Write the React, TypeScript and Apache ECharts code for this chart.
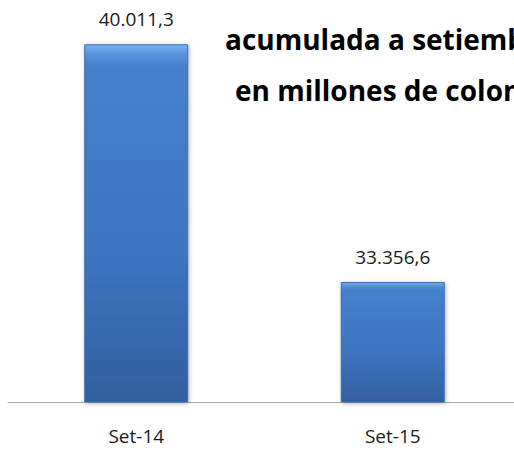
import React, { useEffect, useRef } from "react";
import * as echarts from "echarts";

const categories = ["Set-14", "Set-15"];
const values = [40011.3, 33356.6];
const valueLabels = ["40.011,3", "33.356,6"];
const titleLines = ["acumulada a setiembre", "en millones de colones"];

export default function App() {
  const ref = useRef<HTMLDivElement>(null);
  useEffect(() => {
    document.body.style.margin = "0";
    document.body.style.overflow = "hidden";
    const chart = echarts.init(ref.current!, null, { renderer: "svg" });
    chart.setOption({
      animation: false,
      backgroundColor: "#ffffff",
      grid: { left: 8, width: 513, top: 9, bottom: 49, containLabel: false },
      xAxis: {
        type: "category",
        data: categories,
        axisLine: { show: true, lineStyle: { color: "#a6a6a6", width: 1 } },
        axisTick: { show: false },
        axisLabel: {
          color: "#1a1a1a",
          fontFamily: "Open Sans",
          fontSize: 19,
          margin: 24,
        },
      },
      yAxis: {
        type: "value",
        min: 30000,
        max: 41000,
        show: false,
        splitLine: { show: false },
      },
      graphic: [
        {
          type: "text",
          left: 225,
          top: 25,
          style: {
            text: titleLines[0],
            fill: "#000",
            font: "bold 28px 'Open Sans'",
          },
        },
        {
          type: "text",
          left: 235,
          top: 76,
          style: {
            text: titleLines[1],
            fill: "#000",
            font: "bold 28px 'Open Sans'",
          },
        },
      ],
      series: [
        {
          type: "bar",
          data: values,
          barWidth: 104,
          itemStyle: {
            color: new echarts.graphic.LinearGradient(0, 0, 0, 1, [
              { offset: 0, color: "#78b2f0" },
              { offset: 0.025, color: "#5a94dd" },
              { offset: 0.06, color: "#4580cc" },
              { offset: 0.6, color: "#3d74bf" },
              { offset: 1, color: "#325f9f" },
            ]),
            borderColor: "#3a6cb0",
            borderWidth: 1,
            shadowColor: "rgba(0,0,0,0.3)",
            shadowBlur: 4,
            shadowOffsetX: 1,
            shadowOffsetY: 1,
          },
          label: {
            show: true,
            position: "top",
            distance: 16,
            formatter: (p: any) => valueLabels[p.dataIndex],
            color: "#1a1a1a",
            fontFamily: "Open Sans",
            fontSize: 19,
          },
        },
      ],
    });
    return () => chart.dispose();
  }, []);
  return (
    <div
      ref={ref}
      style={{ position: "fixed", left: 0, top: 0, width: 530, height: 451 }}
    />
  );
}
